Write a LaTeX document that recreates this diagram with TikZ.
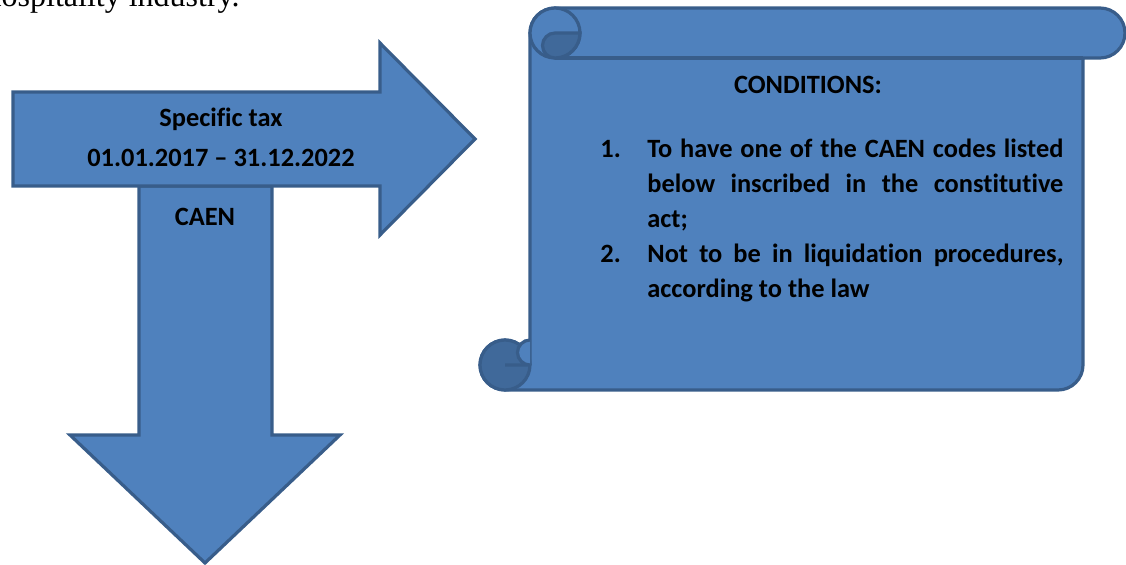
\documentclass[tikz,border=0pt]{standalone}
\usepackage{fontspec}
\setmainfont{Carlito}[Ligatures=NoCommon]
\newfontfamily\introfont{Liberation Serif}
\definecolor{scrollfill}{RGB}{79,129,189}
\definecolor{scrollline}{RGB}{56,93,138}
\definecolor{curlfill}{RGB}{64,105,154}
\begin{document}
\begin{tikzpicture}[
	x=0.5pt,
	y=0.5pt,
	bluepart/.style={
		draw=scrollline,
		fill=scrollfill,
		line width=1.6pt,
		line join=miter
	},
	curlpart/.style={
		draw=scrollline,
		fill=curlfill,
		line width=1.6pt
	},
	arrowtext/.style={
		font=\bfseries\fontsize{13.2}{20}\selectfont,
		align=center,
		inner sep=0pt
	},
	listtext/.style={
		font=\bfseries\fontsize{13.2}{17.5}\selectfont,
		text width=231.5pt,
		align=justify,
		inner sep=0pt
	},
]

\useasboundingbox (0,0) rectangle (1126,564);

\node[anchor=base east, inner sep=0pt, font=\introfont\fontsize{16}{19}\selectfont] (intro) at (240,558) {hospitality industry.};

% arrows
\draw[bluepart] (139,378) -- (272,378) -- (272,129) -- (340,129) -- (205,1) -- (70,129) -- (139,129) -- cycle;
\draw[bluepart] (13,472) -- (380,472) -- (380,521) -- (475,425) -- (380,329) -- (380,378) -- (13,378) -- cycle;

\node[arrowtext] (tax_text) at (221,427) {Specific tax\\01.01.2017 -- 31.12.2022};
\node[arrowtext] (caen_text) at (205,347) {CAEN};

% scroll
\draw[bluepart] (555,556) -- (1100,556) arc[start angle=90, end angle=-90, radius=12.5pt]
	-- (1083,506) -- (1083,199) arc[start angle=0, end angle=-90, radius=12.5pt]
	-- (505,174) arc[start angle=270, end angle=90, radius=12.5pt]
	arc[start angle=90, end angle=0, radius=12.5pt]
	-- (530,531) arc[start angle=180, end angle=90, radius=12.5pt] -- cycle;
\draw[bluepart] (555,531) circle[radius=12.5pt];
\draw[draw=scrollline, line width=1.6pt] (555,506) -- (1083,506);
\draw[curlpart] (555,531) -- (580,531) arc[start angle=0, end angle=-90, radius=12.5pt]
	arc[start angle=270, end angle=90, radius=6.25pt] -- cycle;
\draw[curlpart] (505,199) circle[radius=12.5pt];
\fill[scrollfill] (530,199) arc[start angle=270, end angle=90, radius=6.25pt] -- cycle;
\draw[draw=scrollline, line width=1.6pt] (505,199) -- (530,199) arc[start angle=270, end angle=90, radius=6.25pt];

\node[arrowtext] (cond_title) at (808,479) {CONDITIONS:};
\node[listtext, anchor=north west] (cond_list) at (600,425) {%
\hangindent=23.5pt\hangafter=1\noindent\makebox[23.5pt][l]{1.}To have one of the CAEN codes listed below inscribed in the constitutive\linebreak act;\par
\hangindent=23.5pt\hangafter=1\noindent\makebox[23.5pt][l]{2.}Not to be in liquidation procedures, according to the law\par};

\end{tikzpicture}
\end{document}
